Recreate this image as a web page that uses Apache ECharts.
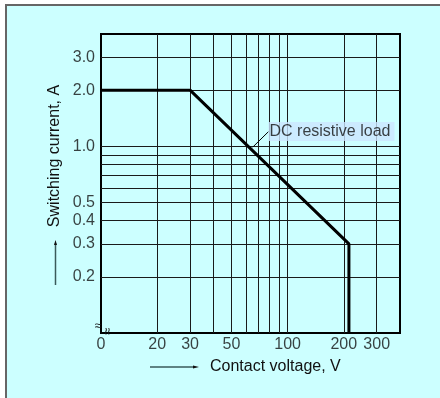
<!DOCTYPE html>
<html>
<head>
<meta charset="utf-8">
<script src="https://cdn.jsdelivr.net/npm/echarts@6/dist/echarts.min.js"></script>
<style>
  html, body { margin: 0; padding: 0; background: #fff; }
  #chart { width: 440px; height: 398px; }
</style>
</head>
<body>
<div id="chart"></div>
<script>
// curve: DC resistive load (voltage V, current A)
const curveV = [10, 30, 213, 213];
const curveA = [2.0, 2.0, 0.3, 0.1];

// grid lines
const xGridValues = [20, 30, 40, 50, 60, 70, 80, 90, 100, 200, 300];
const yGridValues = [0.2, 0.3, 0.4, 0.5, 0.6, 0.7, 0.8, 0.9, 1.0, 2.0, 3.0];

// tick labels
const xTickValues = [10, 20, 30, 50, 100, 200, 300];
const xTickLabels = ['0', '20', '30', '50', '100', '200', '300'];
const yTickValues = [0.2, 0.3, 0.4, 0.5, 1.0, 2.0, 3.0];
const yTickLabels = ['0.2', '0.3', '0.4', '0.5', '1.0', '2.0', '3.0'];

// annotation leader
const leaderV = [65, 79];
const leaderA = [0.99, 1.2];

const font = 'Liberation Sans, Arial, sans-serif';
const chart = echarts.init(document.getElementById('chart'), null, {renderer: 'canvas'});

chart.setOption({
  animation: false,
  backgroundColor: '#ffffff',
  grid: {
    left: 101, right: 40, top: 34, bottom: 65,
    show: true,
    borderColor: '#000',
    borderWidth: 2,
    backgroundColor: 'transparent',
    z: 3,
  },
  xAxis: {
    type: 'log', logBase: 10, min: 10, max: 400,
    axisLine: {show: false}, axisTick: {show: false},
    axisLabel: {show: false}, splitLine: {show: false},
  },
  yAxis: {
    type: 'log', logBase: 10, min: 0.1, max: 4,
    axisLine: {show: false}, axisTick: {show: false},
    axisLabel: {show: false}, splitLine: {show: false},
  },
  graphic: [
    {type: 'rect', z: -10, shape: {x: 6, y: 5, width: 434, height: 393}, style: {fill: '#ccffff'}},
    {type: 'line', z: -9, shape: {x1: 5, y1: 5, x2: 440, y2: 5}, style: {stroke: '#666', lineWidth: 2}},
    {type: 'line', z: -9, shape: {x1: 6, y1: 5, x2: 6, y2: 398}, style: {stroke: '#666', lineWidth: 2}},
    // axis name arrows
    {type: 'line', shape: {x1: 55.5, y1: 285, x2: 55.5, y2: 243}, style: {stroke: '#3a5a5a', lineWidth: 1.5}},
    {type: 'polygon', shape: {points: [[54, 245], [57, 245], [55.5, 240]]}, style: {fill: '#111'}},
    {type: 'line', shape: {x1: 150, y1: 367, x2: 195, y2: 367}, style: {stroke: '#3a5a5a', lineWidth: 1.5}},
    {type: 'polygon', shape: {points: [[193, 365.5], [193, 368.5], [199, 367]]}, style: {fill: '#111'}},
    {type: 'text', x: 55, y: 156, rotation: Math.PI / 2,
      style: {text: 'Switching current, A', font: '16px ' + font, fill: '#111', align: 'center', verticalAlign: 'middle'}},
    {type: 'text', x: 210, y: 367,
      style: {text: 'Contact voltage, V', font: '16px ' + font, fill: '#111', align: 'left', verticalAlign: 'middle'}},
    // axis break marks
    {type: 'text', x: 98, y: 326, z: 10,
      style: {text: '≈', font: '13px ' + font, fill: '#111', align: 'center', verticalAlign: 'middle'}},
    {type: 'text', x: 107, y: 331, z: 10, rotation: -Math.PI / 2,
      style: {text: '≈', font: '13px ' + font, fill: '#111', align: 'center', verticalAlign: 'middle'}},
  ],
  series: [
    {
      type: 'line', data: [], silent: true,
      markLine: {
        silent: true, symbol: 'none', animation: false,
        label: {show: false},
        lineStyle: {color: '#1a1a1a', width: 1, type: 'solid'},
        data: xGridValues.map(v => ({xAxis: v})).concat(yGridValues.map(v => ({yAxis: v}))),
      },
    },
    {
      type: 'line', z: 5,
      data: curveV.map((v, i) => [v, curveA[i]]),
      symbol: 'none',
      lineStyle: {color: '#000', width: 3},
    },
    {
      type: 'line', z: 5,
      data: leaderV.map((v, i) => [v, leaderA[i]]),
      symbol: 'none',
      lineStyle: {color: '#000', width: 1},
    },
    {
      type: 'scatter', z: 6, symbolSize: 0, silent: true,
      data: [[leaderV[1], leaderA[1]]],
      label: {
        show: true, position: 'right', distance: 0, formatter: 'DC resistive load',
        fontFamily: font, fontSize: 16, color: '#111',
        backgroundColor: '#cce6ff', padding: [2, 4, 1, 1],
      },
    },
    {
      type: 'scatter', symbolSize: 0, silent: true,
      data: xTickValues.map(v => [v, 0.1]),
      label: {
        show: true, position: 'bottom', distance: 4,
        formatter: p => xTickLabels[p.dataIndex],
        fontFamily: font, fontSize: 16, color: '#111',
      },
    },
    {
      type: 'scatter', symbolSize: 0, silent: true,
      data: yTickValues.map(v => [10, v]),
      label: {
        show: true, position: 'left', distance: 6,
        formatter: p => yTickLabels[p.dataIndex],
        fontFamily: font, fontSize: 16, color: '#111',
      },
    },
  ],
});
</script>
</body>
</html>
